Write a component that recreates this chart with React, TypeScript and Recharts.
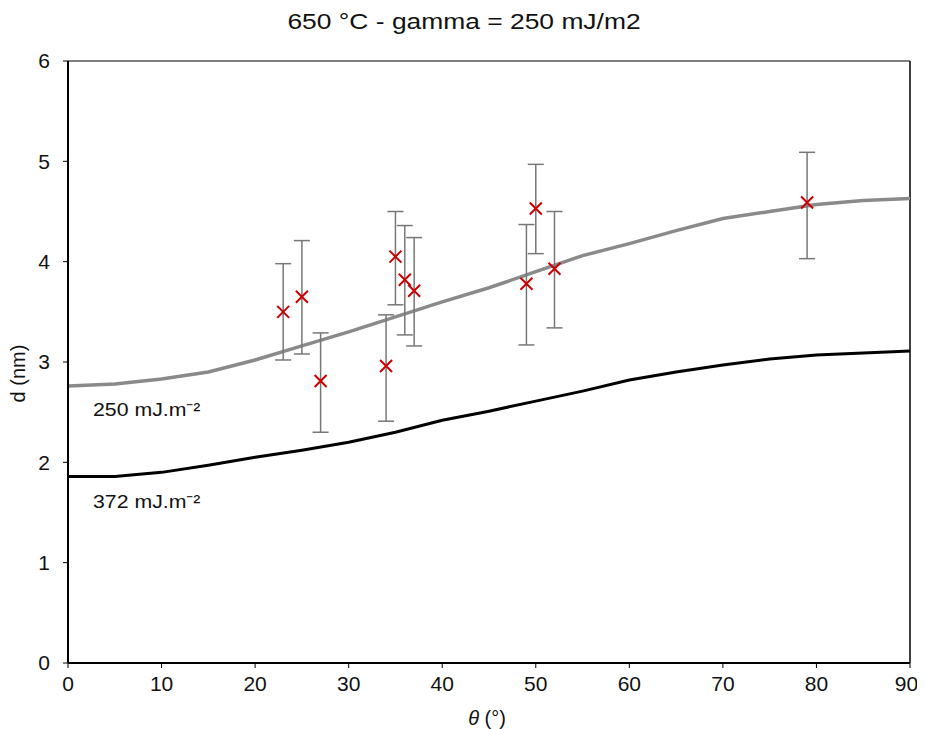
import {
  ComposedChart,
  Line,
  Scatter,
  ErrorBar,
  XAxis,
  YAxis,
  ReferenceLine,
} from "recharts";

// modelled curves, sampled every 5 degrees
const theta = [0, 5, 10, 15, 20, 25, 30, 35, 40, 45, 50, 55, 60, 65, 70, 75, 80, 85, 90];
const d250 = [2.76, 2.78, 2.83, 2.9, 3.02, 3.16, 3.3, 3.45, 3.6, 3.74, 3.9, 4.06, 4.18, 4.31, 4.43, 4.5, 4.57, 4.61, 4.63];
const d372 = [1.86, 1.86, 1.9, 1.97, 2.05, 2.12, 2.2, 2.3, 2.42, 2.51, 2.61, 2.71, 2.82, 2.9, 2.97, 3.03, 3.07, 3.09, 3.11];

// measurements
const measTheta = [23, 25, 27, 34, 35, 36, 37, 49, 50, 52, 79];
const measD = [3.5, 3.65, 2.81, 2.96, 4.05, 3.82, 3.71, 3.78, 4.53, 3.93, 4.59];
const measErrLow = [0.48, 0.57, 0.51, 0.55, 0.48, 0.55, 0.55, 0.61, 0.45, 0.59, 0.56];
const measErrHigh = [0.48, 0.56, 0.48, 0.51, 0.45, 0.54, 0.53, 0.59, 0.44, 0.57, 0.5];

const xTicks = [0, 10, 20, 30, 40, 50, 60, 70, 80, 90];
const yTicks = [0, 1, 2, 3, 4, 5, 6];

const font = "'Liberation Sans', Arial, Helvetica, sans-serif";

const curve250 = theta.map((t, i) => ({ x: t, y: d250[i] }));
const curve372 = theta.map((t, i) => ({ x: t, y: d372[i] }));
const points = measTheta.map((t, i) => ({
  x: t,
  y: measD[i],
  err: [measErrLow[i], measErrHigh[i]],
}));

const Cross = (props: any) => {
  const { cx, cy } = props;
  const s = 6;
  return (
    <path
      d={`M${cx - s},${cy - s}L${cx + s},${cy + s}M${cx - s},${cy + s}L${cx + s},${cy - s}`}
      stroke="#cc0000"
      strokeWidth={2}
      fill="none"
    />
  );
};

const overlay = { position: "absolute" as const, color: "#111", zIndex: 5, whiteSpace: "nowrap" as const };

export default function App() {
  return (
    <div style={{ position: "relative", width: 909, height: 721, fontFamily: font }}>
      <ComposedChart
        width={909}
        height={713}
        margin={{ top: 53, right: 7, bottom: 28, left: 10 }}
      >
        <XAxis
          type="number"
          dataKey="x"
          domain={[0, 90]}
          ticks={xTicks}
          allowDataOverflow
          tickSize={5}
          tickMargin={8}
          axisLine={{ stroke: "#000", strokeWidth: 2 }}
          tickLine={{ stroke: "#000" }}
          tick={{ fill: "#111", fontSize: 21, fontFamily: font }}
        />
        <YAxis
          type="number"
          dataKey="y"
          domain={[0, 6]}
          ticks={yTicks}
          allowDataOverflow
          width={50}
          tickSize={5}
          tickMargin={13}
          axisLine={{ stroke: "#000", strokeWidth: 2 }}
          tickLine={{ stroke: "#000" }}
          tick={{ fill: "#111", fontSize: 21, fontFamily: font }}
        />
        <ReferenceLine y={6} stroke="#555" strokeWidth={1.5} />
        <ReferenceLine x={90} stroke="#000" strokeWidth={1.5} />
        <Line
          data={curve250}
          dataKey="y"
          type="linear"
          stroke="#8a8a8a"
          strokeWidth={3.5}
          dot={false}
          isAnimationActive={false}
        />
        <Line
          data={curve372}
          dataKey="y"
          type="linear"
          stroke="#000"
          strokeWidth={3}
          dot={false}
          isAnimationActive={false}
        />
        <Scatter data={points} dataKey="y" shape={Cross} isAnimationActive={false}>
          <ErrorBar dataKey="err" direction="y" width={8} stroke="#777" strokeWidth={1.5} />
        </Scatter>
      </ComposedChart>
      <div
        style={{
          ...overlay,
          top: 1,
          left: 0,
          width: 912,
          textAlign: "center",
          fontSize: 22,
          transform: "scaleX(1.2)",
        }}
      >
        650 °C - gamma = 250 mJ/m2
      </div>
      <div style={{ ...overlay, left: 85, top: 388, fontSize: 19, transform: "scaleX(1.12)", transformOrigin: "left" }}>
        250 mJ.m⁻²
      </div>
      <div style={{ ...overlay, left: 85, top: 480, fontSize: 19, transform: "scaleX(1.12)", transformOrigin: "left" }}>
        372 mJ.m⁻²
      </div>
      <div
        style={{
          ...overlay,
          left: -30,
          top: 354,
          width: 80,
          textAlign: "center",
          fontSize: 20,
          transform: "rotate(-90deg)",
        }}
      >
        d (nm)
      </div>
      <div
        style={{
          ...overlay,
          left: 429,
          top: 699,
          width: 100,
          textAlign: "center",
          fontSize: 20,
        }}
      >
        <i>θ</i> (°)
      </div>
    </div>
  );
}
